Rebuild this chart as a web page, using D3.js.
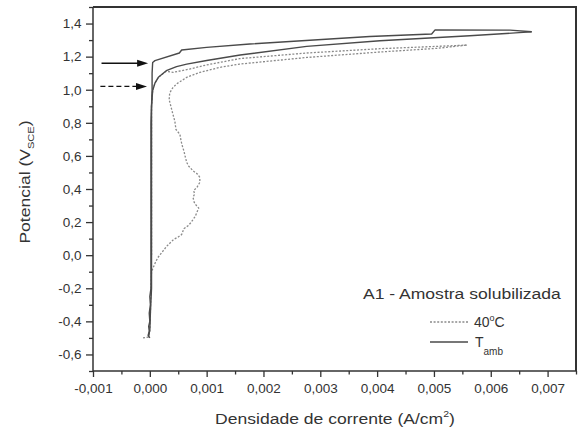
<!DOCTYPE html>
<html><head><meta charset="utf-8">
<script src="https://cdn.jsdelivr.net/npm/d3@7"></script>
<style>
body{margin:0;background:#fff}
svg{display:block}
text{font-family:Arial,"Liberation Sans",sans-serif;fill:#333}
</style>
</head><body>
<svg id="c" width="581" height="430"></svg>
<script>
// ---- tick values / labels ----
const xTicks = [-0.001,0,0.001,0.002,0.003,0.004,0.005,0.006,0.007];
const xTickLabels = ["-0,001","0,000","0,001","0,002","0,003","0,004","0,005","0,006","0,007"];
const xMinor = [-0.0005,0.0005,0.0015,0.0025,0.0035,0.0045,0.0055,0.0065,0.0075];
const yTicks = [-0.6,-0.4,-0.2,0,0.2,0.4,0.6,0.8,1.0,1.2,1.4];
const yTickLabels = ["-0,6","-0,4","-0,2","0,0","0,2","0,4","0,6","0,8","1,0","1,2","1,4"];
const yMinor = [-0.7,-0.5,-0.3,-0.1,0.1,0.3,0.5,0.7,0.9,1.1,1.3,1.5];

// ---- series: [current density (A/cm2), potential (V_SCE)] ----
const tambForward = [
 [0.00000,-0.500],[-0.00003,-0.485],[-0.00001,-0.460],[-0.00002,-0.430],[0.00000,-0.400],
 [-0.00001,-0.350],[0.00001,-0.300],[0.00000,-0.250],[0.00002,-0.200],[0.00002,-0.100],
 [0.00002,0.000],[0.00002,0.200],[0.00002,0.400],[0.00002,0.600],[0.00002,0.800],
 [0.00003,0.900],[0.00005,0.995],[0.00009,1.040],[0.00015,1.075],[0.00029,1.115],
 [0.00047,1.140],[0.00065,1.155],[0.00100,1.177],[0.00159,1.210],[0.00276,1.262],
 [0.00405,1.296],[0.00563,1.326],[0.00650,1.345],[0.00672,1.350]
];
const tambReverse = [
 [0.00672,1.350],[0.00634,1.360],[0.00502,1.362],[0.00496,1.337],[0.00387,1.322],
 [0.00176,1.276],[0.00100,1.256],[0.00056,1.240],[0.00052,1.222],[0.00009,1.176],
 [0.00005,1.165],[0.00004,1.100],[0.00004,1.000],[0.00003,0.900],[0.00003,0.500],
 [0.00003,0.000],[0.00003,-0.200],[0.00001,-0.350],[0.00000,-0.450],[-0.00002,-0.490]
];
const t40Forward = [
 [-0.00012,-0.500],[-0.00003,-0.495],[0.00000,-0.460],[0.00001,-0.350],[0.00002,-0.200],
 [0.00003,-0.100],[0.00009,-0.050],[0.00014,-0.015],[0.00022,0.020],[0.00030,0.055],
 [0.00036,0.075],[0.00042,0.095],[0.00050,0.110],[0.00056,0.125],[0.00060,0.160],
 [0.00068,0.180],[0.00073,0.200],[0.00080,0.235],[0.00083,0.260],[0.00086,0.285],
 [0.00082,0.300],[0.00078,0.320],[0.00076,0.350],[0.00079,0.370],[0.00077,0.390],
 [0.00083,0.410],[0.00088,0.440],[0.00088,0.470],[0.00084,0.490],[0.00076,0.510],
 [0.00068,0.540],[0.00065,0.560],[0.00062,0.600],[0.00060,0.630],[0.00058,0.650],
 [0.00055,0.690],[0.00053,0.730],[0.00046,0.760],[0.00044,0.810],[0.00040,0.860],
 [0.00037,0.900],[0.00034,0.940],[0.00035,0.980],[0.00040,1.010],[0.00047,1.035],
 [0.00065,1.075],[0.00088,1.105],[0.00123,1.135],[0.00158,1.155],[0.00276,1.195],
 [0.00405,1.228],[0.00505,1.250],[0.00558,1.270]
];
const t40Reverse = [
 [0.00558,1.270],[0.00505,1.262],[0.00405,1.248],[0.00276,1.222],[0.00158,1.188],
 [0.00100,1.150],[0.00070,1.125],[0.00041,1.105],[0.00029,1.112],[0.00015,1.075],
 [0.00009,1.040],[0.00005,0.995],[0.00003,0.900],[0.00003,0.600],[0.00003,0.300],
 [0.00003,0.000]
];
// annotation arrows: [x start, x end, potential]
const arrowSolid = [-0.00085,-0.00003,1.160];
const arrowDashed = [-0.00087,-0.00005,1.020];

// ---- layout ----
const svg = d3.select("#c");
const L=93, R=576, T=7, B=371;
const x = d3.scaleLinear().domain([-0.001,0.0075]).range([L,R]);
const y = d3.scaleLinear().domain([-0.7,1.5]).range([B,T]);

function stretchText(g, tx, ty, rot, sx, anchor, parts){
  const t = g.append("text")
    .attr("transform",`translate(${tx},${ty}) rotate(${rot}) scale(${sx},1)`)
    .attr("text-anchor",anchor);
  parts.forEach(p=>{
    const s=t.append("tspan").text(p.t).style("font-size",p.s+"px");
    if(p.dy) s.attr("dy",p.dy);
  });
  return t;
}

// minor ticks
svg.append("g").attr("transform",`translate(0,${B})`)
  .call(d3.axisBottom(x).tickValues(xMinor).tickSize(3.5).tickFormat(""))
  .call(g=>g.select(".domain").remove())
  .call(g=>g.selectAll("line").attr("stroke","#333").attr("stroke-width",1.3));
svg.append("g").attr("transform",`translate(${L},0)`)
  .call(d3.axisLeft(y).tickValues(yMinor).tickSize(4).tickFormat(""))
  .call(g=>g.select(".domain").remove())
  .call(g=>g.selectAll("line").attr("stroke","#333").attr("stroke-width",1.3));
// major ticks
svg.append("g").attr("transform",`translate(0,${B})`)
  .call(d3.axisBottom(x).tickValues(xTicks).tickSize(6).tickPadding(6).tickFormat((d,i)=>xTickLabels[i]))
  .call(g=>g.select(".domain").remove())
  .call(g=>g.selectAll("line").attr("stroke","#333").attr("stroke-width",1.3))
  .call(g=>g.selectAll("text").style("font-size","13.5px").attr("fill","#333"));
svg.append("g").attr("transform",`translate(${L},0)`)
  .call(d3.axisLeft(y).tickValues(yTicks).tickSize(7).tickPadding(4.5).tickFormat((d,i)=>yTickLabels[i]))
  .call(g=>g.select(".domain").remove())
  .call(g=>g.selectAll("line").attr("stroke","#333").attr("stroke-width",1.3))
  .call(g=>g.selectAll("text").style("font-size","13.5px").attr("fill","#333"));

// frame
const fr = svg.append("g").attr("stroke","#333").attr("fill","none");
fr.append("line").attr("x1",L).attr("x2",R+1).attr("y1",T).attr("y2",T).attr("stroke-width",2);
fr.append("line").attr("x1",R).attr("x2",R).attr("y1",T).attr("y2",B).attr("stroke-width",2);
fr.append("line").attr("x1",L).attr("x2",L).attr("y1",T).attr("y2",B+0.75).attr("stroke-width",1.5);
fr.append("line").attr("x1",L).attr("x2",R+1).attr("y1",B).attr("y2",B).attr("stroke-width",1.5);

// curves
const line = d3.line().x(d=>x(d[0])).y(d=>y(d[1]));
const plot = svg.append("g").attr("fill","none");
[t40Forward,t40Reverse].forEach(s=>plot.append("path").attr("d",line(s))
  .attr("stroke","#8a8a8a").attr("stroke-width",1.3).attr("stroke-dasharray","2,1.6"));
[tambForward,tambReverse].forEach(s=>plot.append("path").attr("d",line(s))
  .attr("stroke","#4a4a4a").attr("stroke-width",1.4).attr("stroke-linejoin","round"));

// arrows
function arrow(a, dash){
  const x0=x(a[0]), x1=x(a[1]), yy=y(a[2]);
  svg.append("line").attr("x1",x0).attr("x2",x1-9).attr("y1",yy).attr("y2",yy)
    .attr("stroke","#111").attr("stroke-width",1.3).attr("stroke-dasharray",dash||null);
  svg.append("path").attr("d",`M${x1},${yy} L${x1-11},${yy-3.5} L${x1-11},${yy+3.5} Z`).attr("fill","#111");
}
arrow(arrowSolid);
arrow(arrowDashed,"5,3");

// axis titles
stretchText(svg,335,424,0,1.17,"middle",[
  {t:"Densidade de corrente (A/cm",s:15},{t:"2",s:9,dy:-7},{t:")",s:15,dy:7}]);
stretchText(svg,29.5,182,-90,1.17,"middle",[
  {t:"Potencial (V",s:15},{t:"SCE",s:9.5,dy:4},{t:")",s:15,dy:-4}]);

// legend
stretchText(svg,363,298.5,0,1.17,"start",[{t:"A1 - Amostra solubilizada",s:15}]);
svg.append("line").attr("x1",430).attr("x2",468).attr("y1",322).attr("y2",322)
  .attr("stroke","#8a8a8a").attr("stroke-width",1.3).attr("stroke-dasharray","2,1.6");
svg.append("line").attr("x1",430).attr("x2",468).attr("y1",342).attr("y2",342)
  .attr("stroke","#4a4a4a").attr("stroke-width",1.3);
stretchText(svg,474,326.5,0,1,"start",[{t:"40",s:14},{t:"o",s:9,dy:-6},{t:"C",s:14,dy:6}]);
stretchText(svg,475,347.3,0,1,"start",[{t:"T",s:14},{t:"amb",s:10,dy:8}]);
</script>
</body></html>
